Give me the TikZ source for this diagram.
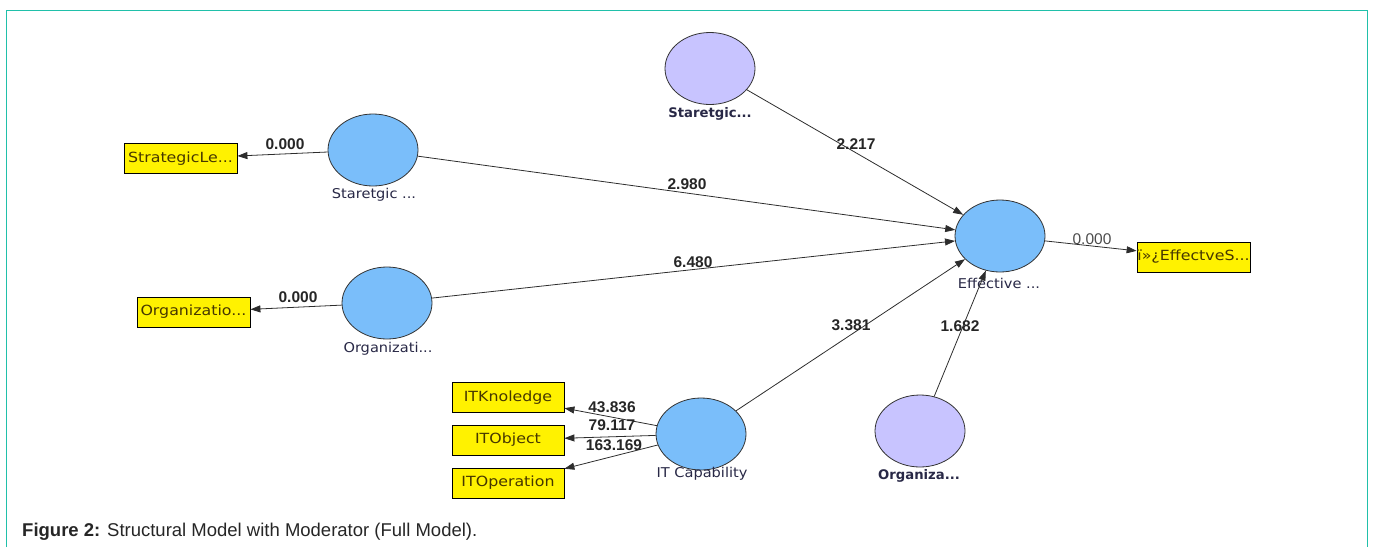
\documentclass[tikz,border=0pt]{standalone}
\usepackage{fontspec}
\setmainfont{Liberation Sans}
\newfontfamily\dvsbox[FakeStretch=1.13]{DejaVu Sans}
\newfontfamily\dvslbl[FakeStretch=1.08]{DejaVu Sans}
\newfontfamily\dvs{DejaVu Sans}
\usetikzlibrary{arrows.meta,shapes.geometric}
\definecolor{frame}{RGB}{32,192,170}
\definecolor{lvblue}{RGB}{122,190,250}
\definecolor{lvpurple}{RGB}{200,196,255}
\definecolor{boxtext}{RGB}{70,55,0}
\definecolor{lbltext}{RGB}{40,40,70}
\definecolor{edgecol}{RGB}{45,45,45}
\tikzset{
  latent/.style={ellipse, draw=black!80, line width=0.8pt, fill=lvblue, minimum width=90pt, minimum height=72pt, inner sep=0pt},
  moder/.style={latent, fill=lvpurple},
  ind/.style={draw=black, line width=0.8pt, fill=yellow, minimum width=113pt, minimum height=30pt, inner sep=0pt, font=\dvsbox\fontsize{14}{16}\selectfont, text=boxtext},
  lvlabel/.style={font=\dvslbl\fontsize{13.5}{15}\selectfont, text=lbltext, inner sep=0pt},
  modlabel/.style={font=\dvs\fontsize{13.2}{15}\selectfont\bfseries, text=lbltext, inner sep=0pt},
  coef/.style={font=\fontsize{15.5}{17}\selectfont\bfseries, text=black!85, inner sep=0pt},
  coefn/.style={font=\fontsize{15.5}{17}\selectfont, text=black!70, inner sep=0pt},
  pathline/.style={draw=edgecol, line width=0.8pt, -{Triangle[length=10pt,width=7pt]}},
}
\begin{document}
\begin{tikzpicture}[x=1pt,y=-1pt]
\useasboundingbox (0,0) rectangle (1373,547);
% frame
\draw[frame, line width=1.3pt] (6.3,547) -- (6.3,10.3) -- (1367.3,10.3) -- (1367.3,547);
% latent variables
\node[moder]  (msl) at (710,68.5) {};
\node[latent] (sl)  at (373,150) {};
\node[latent] (oc)  at (387,303) {};
\node[latent] (eff) at (1000,236) {};
\node[latent] (itc) at (701,434) {};
\node[moder]  (moc) at (920,431) {};
% latent labels
\node[modlabel] (mslL) at (710,114) {Staretgic...};
\node[lvlabel]  (slL)  at (374,195) {Staretgic ...};
\node[lvlabel]  (ocL)  at (388,349) {Organizati...};
\node[lvlabel]  (effL) at (999,283) {Effective ...};
\node[lvlabel]  (itcL) at (702,474) {IT Capability};
\node[modlabel] (mocL) at (919,476) {Organiza...};
% indicators
\node[ind] (slI)  at (180.5,158.5) {StrategicLe...};
\node[ind] (ocI)  at (193.5,312) {Organizatio...};
\node[ind] (effI) at (1193.5,257) {ï»¿EffectveS...};
\node[ind, minimum width=112pt] (itk) at (508,397.5) {ITKnoledge};
\node[ind, minimum width=112pt] (ito) at (508,440) {ITObject};
\node[ind, minimum width=112pt] (itp) at (508,483) {ITOperation};
% connectors
\draw[pathline] (sl) -- (slI);
\draw[pathline] (oc) -- (ocI);
\draw[pathline] (eff) -- (effI);
\draw[pathline] (itc) -- (itk);
\draw[pathline] (itc) -- (ito);
\draw[pathline] (itc) -- (itp);
\draw[pathline] (sl) -- (eff);
\draw[pathline] (oc) -- (eff);
\draw[pathline] (itc) -- (eff);
\draw[pathline] (msl) -- (eff);
\draw[pathline] (moc) -- (eff);
% coefficients
\node[coef]  (c1)  at (285,144) {0.000};
\node[coef]  (c2)  at (298,297) {0.000};
\node[coef]  (c3)  at (687,184) {2.980};
\node[coef]  (c4)  at (693,262) {6.480};
\node[coef]  (c5)  at (856,144) {2.217};
\node[coefn] (c6)  at (1092,239) {0.000};
\node[coef]  (c7)  at (851,325) {3.381};
\node[coef]  (c8)  at (960,326) {1.682};
\node[coef]  (c9)  at (612,407) {43.836};
\node[coef]  (c10) at (612,425) {79.117};
\node[coef]  (c11) at (614,445) {163.169};
% caption
\node[anchor=west, inner sep=0pt, font=\fontsize{18.5}{20}\selectfont, text=black!85] (cap) at (22,532) {\textbf{Figure 2:} Structural Model with Moderator (Full Model).};
\end{tikzpicture}
\end{document}
